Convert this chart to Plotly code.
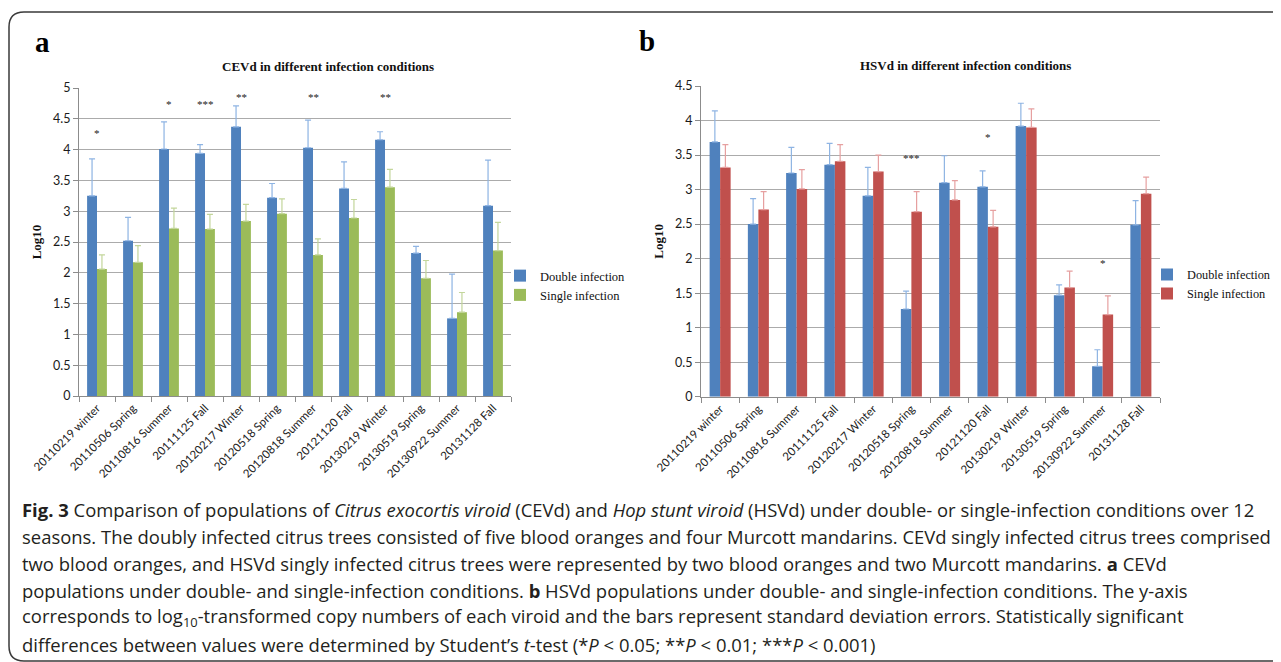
import plotly.graph_objects as go

# page body has an 8px margin: figure occupies page pixels 8..1281 x 8..662
OX, OY = 8, 8
W, H = 1281 - OX, 662 - OY

categories = ["20110219 winter", "20110506 Spring", "20110816 Summer", "20111125 Fall",
              "20120217 Winter", "20120518 Spring", "20120818 Summer", "20121120 Fall",
              "20130219 Winter", "20130519 Spring", "20130922 Summer", "20131128 Fall"]

# Panel a: CEVd
cevd_double = [3.25, 2.52, 4.01, 3.94, 4.37, 3.22, 4.03, 3.37, 4.16, 2.32, 1.26, 3.09]
cevd_double_sd = [0.60, 0.38, 0.44, 0.14, 0.34, 0.23, 0.45, 0.43, 0.13, 0.11, 0.72, 0.74]
cevd_single = [2.06, 2.17, 2.72, 2.71, 2.84, 2.96, 2.29, 2.89, 3.39, 1.91, 1.36, 2.36]
cevd_single_sd = [0.23, 0.27, 0.33, 0.24, 0.27, 0.24, 0.26, 0.30, 0.29, 0.29, 0.32, 0.46]
cevd_star_idx = [0, 2, 3, 4, 6, 8]
cevd_star_txt = ["*", "*", "***", "**", "**", "**"]
cevd_star_y = [4.27, 4.74, 4.74, 4.86, 4.86, 4.86]

# Panel b: HSVd
hsvd_double = [3.69, 2.50, 3.24, 3.36, 2.91, 1.27, 3.10, 3.04, 3.92, 1.47, 0.44, 2.49]
hsvd_double_sd = [0.45, 0.37, 0.37, 0.31, 0.41, 0.26, 0.39, 0.23, 0.33, 0.15, 0.24, 0.35]
hsvd_single = [3.32, 2.71, 3.01, 3.41, 3.26, 2.68, 2.85, 2.46, 3.90, 1.58, 1.19, 2.94]
hsvd_single_sd = [0.33, 0.26, 0.28, 0.24, 0.24, 0.29, 0.28, 0.24, 0.27, 0.24, 0.27, 0.24]
hsvd_star_idx = [5, 7, 10]
hsvd_star_txt = ["***", "*", "*"]
hsvd_star_y = [3.46, 3.76, 1.94]

series_names = ["Double infection", "Single infection"]
yticks_a = [0, 0.5, 1, 1.5, 2, 2.5, 3, 3.5, 4, 4.5, 5]
yticks_b = [0, 0.5, 1, 1.5, 2, 2.5, 3, 3.5, 4, 4.5]

BLUE, GREEN, RED = "#4F81BD", "#9BBB59", "#C0504D"
BLUE_E, GREEN_E, RED_E = "#8EB4E3", "#C3D69B", "#E6A0A0"
SERIF = "Liberation Serif, Times New Roman, serif"
SANS = "Lato, Open Sans, sans-serif"
CAP = "Open Sans, Noto Sans, sans-serif"


def fx(px):
    return (px - OX) / W


def fy(py):
    return 1 - (py - OY) / H


fig = go.Figure()


def add_bars(vals, sd, name, color, ecolor, xa, ya, legend):
    fig.add_trace(go.Bar(
        x=categories, y=vals, name=name, marker=dict(color=color, line=dict(width=0)),
        error_y=dict(type="data", array=sd, arrayminus=[0] * len(sd), symmetric=False,
                     color=ecolor, thickness=1.2, width=3),
        xaxis=xa, yaxis=ya, legend=legend))


add_bars(cevd_double, cevd_double_sd, series_names[0], BLUE, BLUE_E, "x", "y", "legend")
add_bars(cevd_single, cevd_single_sd, series_names[1], GREEN, GREEN_E, "x", "y", "legend")
add_bars(hsvd_double, hsvd_double_sd, series_names[0], BLUE, BLUE_E, "x2", "y2", "legend2")
add_bars(hsvd_single, hsvd_single_sd, series_names[1], RED, RED_E, "x2", "y2", "legend2")

axis_common = dict(showline=True, linecolor="#8C8C8C", linewidth=1, ticks="outside",
                   tickcolor="#8C8C8C", ticklen=5, mirror=False, automargin=False)

fig.update_layout(
    template="none",
    width=W, height=H, autosize=False,
    margin=dict(l=0, r=0, t=0, b=0, autoexpand=False),
    paper_bgcolor="white", plot_bgcolor="white",
    font=dict(family=SANS, color="#222"),
    barmode="group", bargap=0.45, bargroupgap=0,
    xaxis=dict(domain=[fx(79), fx(511)], anchor="y", tickangle=-45, tickson="boundaries",
               tickfont=dict(family=SANS, size=11.5, color="#222"), showgrid=False, **axis_common),
    yaxis=dict(domain=[fy(396), fy(88)], anchor="x", range=[0, 5], tickvals=yticks_a,
               showgrid=True, gridcolor="#ABABAB", gridwidth=1, zeroline=False,
               tickfont=dict(family=SANS, size=12.5, color="#1A1A1A"),
               title=dict(text="<b>Log10</b>", font=dict(family=SERIF, size=13, color="#111"), standoff=8),
               **axis_common),
    xaxis2=dict(domain=[fx(701), fx(1160)], anchor="y2", tickangle=-45, tickson="boundaries",
                tickfont=dict(family=SANS, size=11.5, color="#222"), showgrid=False, **axis_common),
    yaxis2=dict(domain=[fy(396.7), fy(86)], anchor="x2", range=[0, 4.5], tickvals=yticks_b,
                showgrid=True, gridcolor="#ABABAB", gridwidth=1, zeroline=False,
                tickfont=dict(family=SANS, size=12.5, color="#1A1A1A"),
                title=dict(text="<b>Log10</b>", font=dict(family=SERIF, size=13, color="#111"), standoff=8),
                **axis_common),
    legend=dict(x=fx(500), y=fy(261), xanchor="left", yanchor="top",
                font=dict(family=SERIF, size=12.5, color="#111"), bgcolor="rgba(0,0,0,0)",
                itemwidth=30, tracegroupgap=0),
    legend2=dict(x=fx(1147), y=fy(260), xanchor="left", yanchor="top",
                 font=dict(family=SERIF, size=12.3, color="#111"), bgcolor="rgba(0,0,0,0)",
                 itemwidth=30, tracegroupgap=0),
    showlegend=True,
)

ann = []
# significance stars
for i, t, yv in zip(cevd_star_idx, cevd_star_txt, cevd_star_y):
    ann.append(dict(x=categories[i], y=yv, xref="x", yref="y", text=t, showarrow=False,
                    xanchor="center", yanchor="middle",
                    font=dict(family=SERIF, size=11, color="#222")))
for i, t, yv in zip(hsvd_star_idx, hsvd_star_txt, hsvd_star_y):
    ann.append(dict(x=categories[i], y=yv, xref="x2", yref="y2", text=t, showarrow=False,
                    xanchor="center", yanchor="middle",
                    font=dict(family=SERIF, size=11, color="#222")))

# chart titles
ann.append(dict(x=fx(328), y=fy(67), xref="paper", yref="paper", xanchor="center", yanchor="middle",
                text="<b>CEVd in different infection conditions</b>", showarrow=False,
                font=dict(family=SERIF, size=13, color="#111")))
ann.append(dict(x=fx(965), y=fy(65), xref="paper", yref="paper", xanchor="center", yanchor="middle",
                text="<b>HSVd in different infection conditions</b>", showarrow=False,
                font=dict(family=SERIF, size=13, color="#111")))
# panel labels
ann.append(dict(x=fx(42), y=fy(42), xref="paper", yref="paper", xanchor="center", yanchor="middle",
                text="<b>a</b>", showarrow=False, font=dict(family=SERIF, size=29, color="#000")))
ann.append(dict(x=fx(647), y=fy(41), xref="paper", yref="paper", xanchor="center", yanchor="middle",
                text="<b>b</b>", showarrow=False, font=dict(family=SERIF, size=29, color="#000")))

caption_lines = [
    "<b>Fig. 3</b> Comparison of populations of <i>Citrus exocortis viroid</i> (CEVd) and <i>Hop stunt viroid</i> (HSVd) under double- or single-infection conditions over 12",
    "seasons. The doubly infected citrus trees consisted of five blood oranges and four Murcott mandarins. CEVd singly infected citrus trees comprised",
    "two blood oranges, and HSVd singly infected citrus trees were represented by two blood oranges and two Murcott mandarins. <b>a</b> CEVd",
    "populations under double- and single-infection conditions. <b>b</b> HSVd populations under double- and single-infection conditions. The y-axis",
    "corresponds to log<sub>10</sub>-transformed copy numbers of each viroid and the bars represent standard deviation errors. Statistically significant",
    "differences between values were determined by Student’s <i>t</i>-test (*<i>P</i> &lt; 0.05; **<i>P</i> &lt; 0.01; ***<i>P</i> &lt; 0.001)",
]
cap_y0, cap_dy = 509, 27.0
for k, line in enumerate(caption_lines):
    ann.append(dict(x=fx(20), y=fy(cap_y0 + k * cap_dy), xref="paper", yref="paper",
                    xanchor="left", yanchor="middle", text=line, showarrow=False,
                    font=dict(family=CAP, size=18.45, color="#231F20")))

fig.update_layout(annotations=ann)

# rounded frame around figure
xl, yt, yb, r = 9, 12, 661, 15
x0, y0, x1, y1 = fx(xl), fy(yt), fx(1295), fy(yb)
path = (f"M {x1},{y0} L {fx(xl + r)},{y0} Q {x0},{y0} {x0},{fy(yt + r)} "
        f"L {x0},{fy(yb - r)} Q {x0},{y1} {fx(xl + r)},{y1} L {x1},{y1}")
fig.add_shape(type="path", path=path, xref="paper", yref="paper",
              line=dict(color="#3A3A3A", width=1.5))

fig.write_html("out.html")
